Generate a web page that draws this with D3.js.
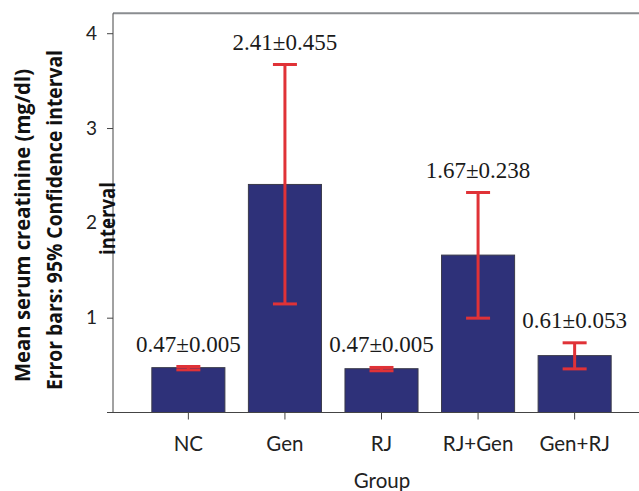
<!DOCTYPE html>
<html>
<head>
<meta charset="utf-8">
<script src="https://cdn.jsdelivr.net/npm/d3@7/dist/d3.min.js"></script>
<style>
  body { margin: 0; background: #fff; }
  svg { display: block; }
</style>
</head>
<body>
<div id="chart"></div>
<script>
const genislik = 639;
const yukseklik = 491;

// Veriler
const gruplar = ["NC", "Gen", "RJ", "RJ+Gen", "Gen+RJ"];
const ortalamalar = [0.473, 2.405, 0.462, 1.66, 0.60];
const altSinir = [0.45, 1.145, 0.44, 0.995, 0.46];
const ustSinir = [0.485, 3.67, 0.475, 2.32, 0.735];
const etiketler = ["0.47±0.005", "2.41±0.455", "0.47±0.005", "1.67±0.238", "0.61±0.053"];
const yTikleri = [1, 2, 3, 4];

const svg = d3.select("#chart")
  .append("svg")
  .attr("width", genislik)
  .attr("height", yukseklik);

const x = d3.scaleBand()
  .domain(gruplar)
  .range([140.25, 622.75])
  .paddingInner(0.2435)
  .paddingOuter(0.12);

const y = d3.scaleLinear()
  .domain([0, 4.21])
  .range([412.5, 13.3]);

const sol = 113;

// Ust cerceve cizgisi
svg.append("line")
  .attr("x1", sol).attr("x2", genislik)
  .attr("y1", y(4.21)).attr("y2", y(4.21))
  .attr("stroke", "#8a8d90")
  .attr("stroke-width", 2);

// Cubuklar
svg.append("g")
  .selectAll("rect")
  .data(gruplar)
  .enter()
  .append("rect")
  .attr("x", d => x(d))
  .attr("width", x.bandwidth())
  .attr("y", (d, i) => y(ortalamalar[i]))
  .attr("height", (d, i) => y(0) - y(ortalamalar[i]))
  .attr("fill", "#2e3179")
  .attr("stroke", "#3a3a4a")
  .attr("stroke-width", 1);

// Hata cubuklari
const kapak = 12;
const hata = svg.append("g")
  .attr("stroke", "#e03237")
  .attr("stroke-width", 3);

gruplar.forEach((g, i) => {
  const cx = x(g) + x.bandwidth() / 2;
  hata.append("line")
    .attr("x1", cx).attr("x2", cx)
    .attr("y1", y(altSinir[i])).attr("y2", y(ustSinir[i]));
  hata.append("line")
    .attr("x1", cx - kapak).attr("x2", cx + kapak)
    .attr("y1", y(ustSinir[i])).attr("y2", y(ustSinir[i]));
  hata.append("line")
    .attr("x1", cx - kapak).attr("x2", cx + kapak)
    .attr("y1", y(altSinir[i])).attr("y2", y(altSinir[i]));
});

// Deger etiketleri
svg.append("g")
  .selectAll("text")
  .data(gruplar)
  .enter()
  .append("text")
  .attr("x", d => x(d) + x.bandwidth() / 2)
  .attr("y", (d, i) => y(ustSinir[i]) - 15)
  .attr("text-anchor", "middle")
  .style("font-family", "'Liberation Serif', 'Times New Roman', serif")
  .style("font-size", "23px")
  .attr("fill", "#1a1a1a")
  .text((d, i) => etiketler[i]);

// Y ekseni
const yEkseni = svg.append("g")
  .attr("transform", `translate(${sol},0)`)
  .call(d3.axisLeft(y).tickValues(yTikleri).tickSize(6).tickPadding(10).tickFormat(d3.format("d")));
yEkseni.select(".domain").remove();
yEkseni.append("line")
  .attr("x1", 0).attr("x2", 0)
  .attr("y1", y(4.21)).attr("y2", y(0))
  .attr("stroke", "#444");
yEkseni.selectAll(".tick line").attr("stroke", "#444");
yEkseni.selectAll(".tick text")
  .style("font-family", "Lato, 'Open Sans', sans-serif")
  .style("font-size", "19px")
  .attr("fill", "#222");

// X ekseni
const xEkseni = svg.append("g")
  .attr("transform", `translate(0,${y(0)})`)
  .call(d3.axisBottom(x).tickSize(7).tickPadding(17));
xEkseni.select(".domain").remove();
xEkseni.append("line")
  .attr("x1", 107).attr("x2", genislik)
  .attr("stroke", "#444");
xEkseni.selectAll(".tick line").attr("stroke", "#444");
xEkseni.selectAll(".tick text")
  .style("font-family", "Lato, 'Open Sans', sans-serif")
  .style("font-size", "20.5px")
  .attr("fill", "#222");

// Eksen basliklari
svg.append("text")
  .attr("x", 382)
  .attr("y", 488)
  .attr("text-anchor", "middle")
  .style("font-family", "Lato, 'Open Sans', sans-serif")
  .style("font-size", "20.5px")
  .attr("fill", "#222")
  .text("Group");

const baslik = svg.append("g")
  .style("font-family", "'Open Sans', Lato, sans-serif")
  .style("font-weight", "bold")
  .style("font-size", "21px")
  .attr("fill", "#111");

baslik.append("text")
  .attr("transform", "translate(30,225.5) rotate(-90)")
  .attr("text-anchor", "middle")
  .attr("textLength", 313)
  .attr("lengthAdjust", "spacingAndGlyphs")
  .text("Mean serum creatinine (mg/dl)");

baslik.append("text")
  .attr("transform", "translate(62,220) rotate(-90)")
  .attr("text-anchor", "middle")
  .attr("textLength", 340)
  .attr("lengthAdjust", "spacingAndGlyphs")
  .text("Error bars: 95% Confidence interval");

baslik.append("text")
  .attr("transform", "translate(115,218.5) rotate(-90)")
  .attr("text-anchor", "middle")
  .attr("textLength", 73)
  .attr("lengthAdjust", "spacingAndGlyphs")
  .text("interval");
</script>
</body>
</html>
